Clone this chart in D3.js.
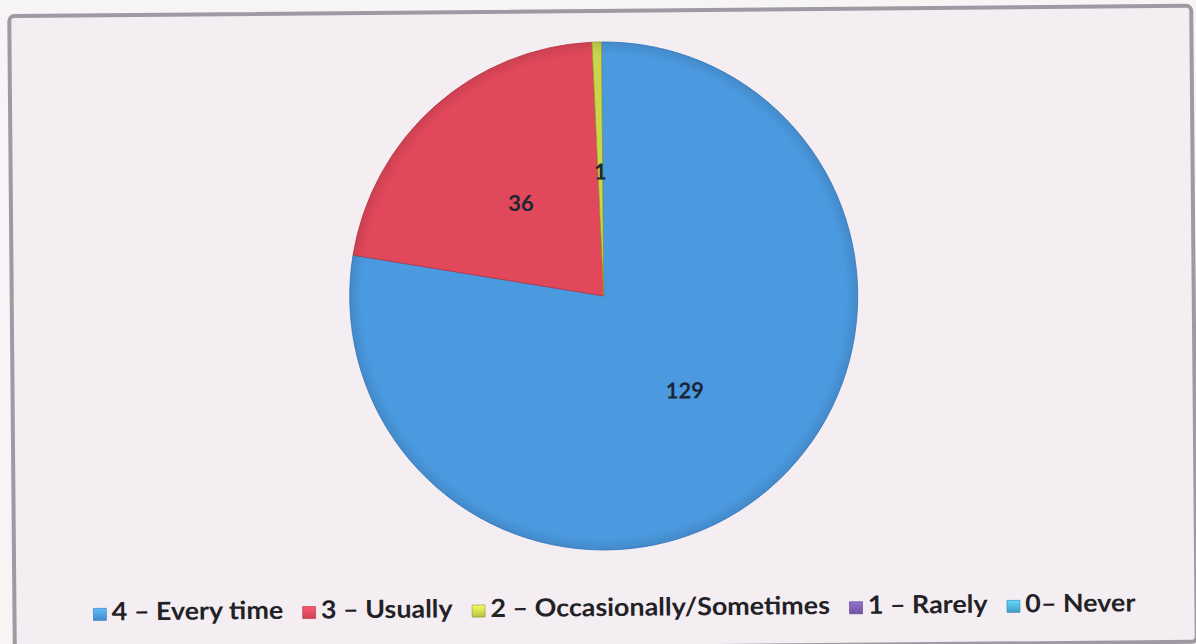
<!DOCTYPE html>
<html>
<head>
<meta charset="utf-8">
<script src="https://cdn.jsdelivr.net/npm/d3@7"></script>
<style>
  html, body { margin: 0; padding: 0; background: #f7f4f6; }
  svg { display: block; }
</style>
</head>
<body>
<svg id="chart" width="1196" height="644"></svg>
<script>
// ---- data ----
const categories = ["4 – Every time", "3 – Usually", "2 – Occasionally/Sometimes", "1 – Rarely", "0– Never"];
const values = [129, 36, 1, 0, 0];
const colors = ["#4b9ae0", "#e2485b", "#c9d54c", "#7a5cae", "#4bb0d8"];
const edgeColors = ["#2f72bd", "#b8323f", "#8f9a2a", "#553d86", "#2f86ad"];

// ---- layout ----
const cx = 604, cy = 296, R = 254;
const svg = d3.select("#chart");

const defs = svg.append("defs");
colors.forEach((c, i) => {
  const g = defs.append("linearGradient").attr("id", "lg" + i)
    .attr("x1", 0).attr("y1", 0).attr("x2", 0).attr("y2", 1);
  g.append("stop").attr("offset", "0%").attr("stop-color", d3.color(c).brighter(0.6));
  g.append("stop").attr("offset", "100%").attr("stop-color", d3.color(c).darker(0.3));
  const r = defs.append("radialGradient").attr("id", "rg" + i)
    .attr("gradientUnits", "userSpaceOnUse")
    .attr("cx", 0).attr("cy", 0).attr("r", R);
  r.append("stop").attr("offset", "0%").attr("stop-color", c);
  r.append("stop").attr("offset", "95%").attr("stop-color", c);
  r.append("stop").attr("offset", "100%").attr("stop-color", d3.color(c).darker(0.3));
});

const root = svg.append("g").attr("transform", `rotate(-0.5, 600, 328)`);

// frame
root.append("rect")
  .attr("x", 12).attr("y", 11).attr("width", 1182).attr("height", 636)
  .attr("rx", 5)
  .attr("fill", "#f4edf1")
  .attr("stroke", "#9e99a3").attr("stroke-width", 4);

// pie
const pie = d3.pie().sort(null).value(d => d)(values);
const arc = d3.arc().innerRadius(0).outerRadius(R);
const labelArc = d3.arc().innerRadius(R * 0.49).outerRadius(R * 0.49);

const pg = root.append("g").attr("transform", `translate(${cx},${cy})`);
pg.selectAll("path.slice")
  .data(pie.filter(d => d.value > 0))
  .join("path")
  .attr("class", "slice")
  .attr("d", arc)
  .attr("fill", d => `url(#rg${d.index})`)
  .attr("stroke", d => edgeColors[d.index])
  .attr("stroke-width", 0.8)
  .attr("stroke-linejoin", "round");

pg.selectAll("text.lbl")
  .data(pie.filter(d => d.value > 0))
  .join("text")
  .attr("class", "lbl")
  .attr("transform", d => `translate(${labelArc.centroid(d)})`)
  .attr("text-anchor", "middle")
  .attr("dy", "0.36em")
  .style("font-family", "Lato, 'Open Sans', sans-serif")
  .style("font-weight", "bold")
  .style("font-size", "22px")
  .attr("fill", "#1c2535")
  .text(d => d.value);

// legend
const lg = root.append("g");
const fontSize = 25;
const sq = 12, sqGap = 5, itemGap = 18;
const items = lg.selectAll("g.item").data(categories).join("g").attr("class", "item");
items.append("rect")
  .attr("width", sq).attr("height", sq)
  .attr("y", -sq)
  .attr("fill", (d, i) => `url(#lg${i})`)
  .attr("stroke", (d, i) => edgeColors[i]).attr("stroke-width", 0.6);
items.append("text")
  .attr("x", sq + sqGap)
  .style("font-family", "Lato, 'Open Sans', sans-serif")
  .style("font-weight", "bold")
  .style("font-size", fontSize + "px")
  .attr("fill", "#222226")
  .text(d => d);
let xPos = 0;
const widths = [];
items.each(function() {
  const t = d3.select(this).select("text").node().getComputedTextLength();
  widths.push(sq + sqGap + t);
});
const total = d3.sum(widths) + itemGap * (widths.length - 1);
const targetLeft = 91, targetRight = 1133;
const scale = (targetRight - targetLeft) / total;
items.attr("transform", (d, i) => {
  const x = xPos; xPos += widths[i] + itemGap; return `translate(${x},0)`;
});
lg.attr("transform", `translate(${targetLeft},616) scale(${scale},1)`);
</script>
</body>
</html>
